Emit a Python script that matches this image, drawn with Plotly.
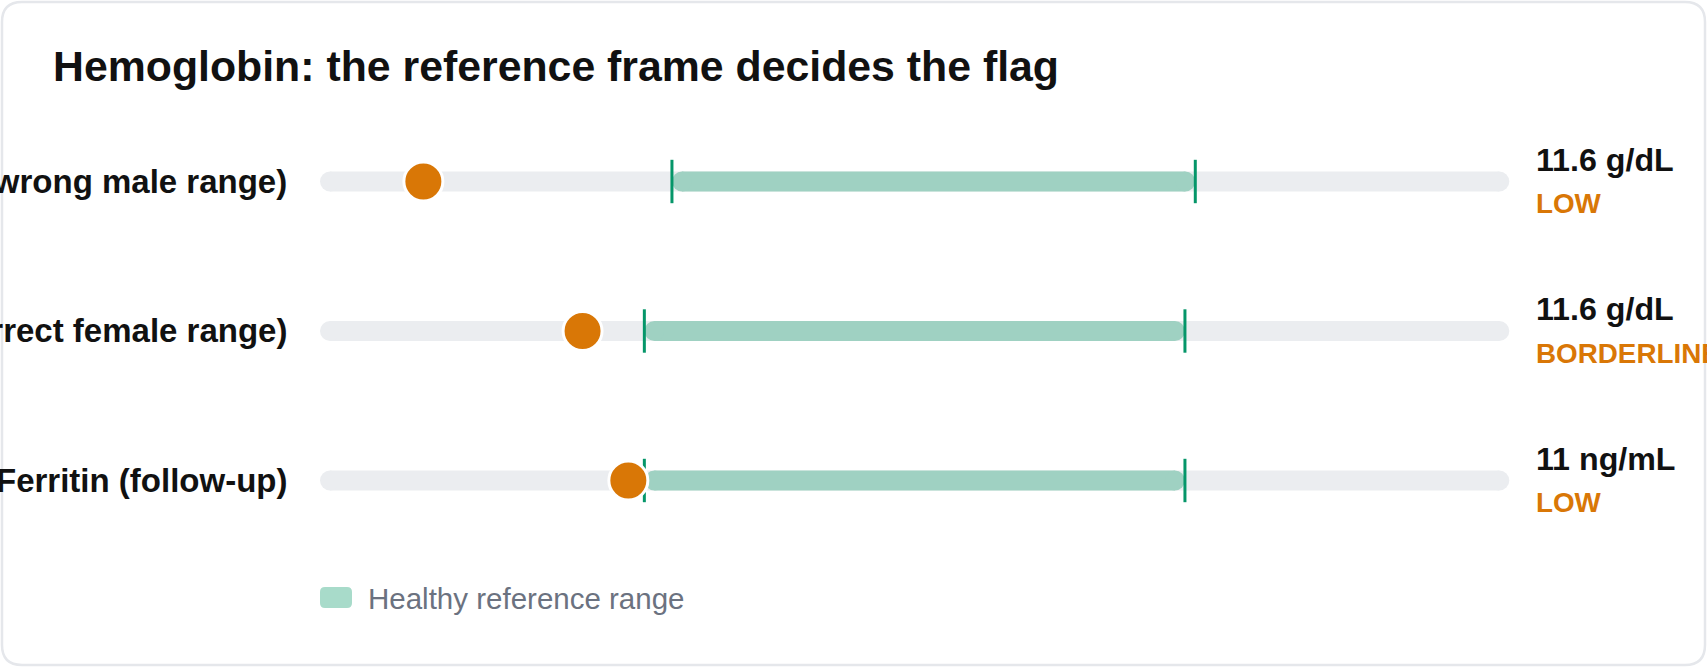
import plotly.graph_objects as go

# ---------------- data ----------------
row_labels = ["Hemoglobin (wrong male range)", "Hemoglobin (correct female range)", "Ferritin (follow-up)"]
values = [11.6, 11.6, 11]
units = ["g/dL", "g/dL", "ng/mL"]
ref_low = [13.5, 12.0, 15]
ref_high = [17.5, 15.5, 150]
flags = ["LOW", "BORDERLINE", "LOW"]
scale_min = [10.81, 9.9, -66]
scale_max = [19.9, 17.6, 231]
title_text = "Hemoglobin: the reference frame decides the flag"
legend_text = "Healthy reference range"

# ---------------- style / layout ----------------
W, H = 1707, 667
FONT = "Liberation Sans, Arial, Helvetica, sans-serif"
TRACK = "#ebedf0"
RANGE_FILL = "#9fd1c2"
RANGE_EDGE = "#059669"
DOT = "#d97706"
TEXT = "#111111"
MUTED = "#6b7280"
TRACK_X0, TRACK_X1 = 320, 1509.3       # pixel extent of the tracks
ROW_CENTER_PX = [181.5, 331, 480.5]
BAR_H = 20


def px(x):
    return x / W


def py(y):
    return 1 - y / H


def rrect_path(x0, y0, x1, y1, r):
    pts = [
        ("M", [(x0 + r, y0)]),
        ("L", [(x1 - r, y0)]),
        ("Q", [(x1, y0), (x1, y0 + r)]),
        ("L", [(x1, y1 - r)]),
        ("Q", [(x1, y1), (x1 - r, y1)]),
        ("L", [(x0 + r, y1)]),
        ("Q", [(x0, y1), (x0, y1 - r)]),
        ("L", [(x0, y0 + r)]),
        ("Q", [(x0, y0), (x0 + r, y0)]),
    ]
    s = ""
    for cmd, ps in pts:
        s += cmd + " " + " ".join(f"{px(a):.6f},{py(b):.6f}" for a, b in ps) + " "
    return s + "Z"


fig = go.Figure()
layout = dict(
    width=W, height=H,
    margin=dict(l=0, r=0, t=0, b=0),
    paper_bgcolor="white", plot_bgcolor="rgba(0,0,0,0)",
    showlegend=False,
    font=dict(family=FONT),
)

plot_w = TRACK_X1 - TRACK_X0
for i in range(3):
    sfx = "" if i == 0 else str(i + 1)
    xa, ya = "x" + sfx, "y" + sfx
    lo_s, hi_s = scale_min[i], scale_max[i]
    d = (BAR_H / 2) * (hi_s - lo_s) / plot_w
    layout["xaxis" + sfx] = dict(domain=[px(TRACK_X0), px(TRACK_X1)], range=[lo_s, hi_s],
                                 visible=False, anchor=ya, fixedrange=True)
    yc = ROW_CENTER_PX[i]
    layout["yaxis" + sfx] = dict(domain=[py(yc + 50), py(yc - 50)], range=[-1, 1],
                                 visible=False, anchor=xa, fixedrange=True)
    # background track
    fig.add_trace(go.Scatter(x=[lo_s + d, hi_s - d], y=[0, 0], xaxis=xa, yaxis=ya,
                             mode="lines+markers", line=dict(color=TRACK, width=BAR_H),
                             marker=dict(color=TRACK, size=BAR_H), hoverinfo="skip", cliponaxis=False))
    # healthy range
    fig.add_trace(go.Scatter(x=[ref_low[i] + d, ref_high[i] - d], y=[0, 0], xaxis=xa, yaxis=ya,
                             mode="lines+markers", line=dict(color=RANGE_FILL, width=BAR_H),
                             marker=dict(color=RANGE_FILL, size=BAR_H), hoverinfo="skip", cliponaxis=False))
    # range boundary ticks
    fig.add_trace(go.Scatter(x=[ref_low[i], ref_high[i]], y=[0, 0], xaxis=xa, yaxis=ya,
                             mode="markers",
                             marker=dict(symbol="line-ns", size=31, color=RANGE_EDGE,
                                         line=dict(color=RANGE_EDGE, width=3)),
                             hoverinfo="skip", cliponaxis=False))
    # value dot
    fig.add_trace(go.Scatter(x=[values[i]], y=[0], xaxis=xa, yaxis=ya, mode="markers",
                             marker=dict(color=DOT, size=39, line=dict(color="white", width=3)),
                             hoverinfo="skip", cliponaxis=False))

annotations = [
    dict(text=title_text, x=px(51), y=py(66), xref="paper", yref="paper",
         xanchor="left", yanchor="middle", showarrow=False,
         font=dict(size=42.8, color=TEXT, family=FONT, weight="bold")),
    dict(text=legend_text, x=px(366), y=py(598), xref="paper", yref="paper",
         xanchor="left", yanchor="middle", showarrow=False,
         font=dict(size=29.5, color=MUTED, family=FONT)),
]
for i in range(3):
    yc = ROW_CENTER_PX[i]
    annotations.append(dict(text=row_labels[i], x=px(289), y=py(yc), xref="paper", yref="paper",
                            xanchor="right", yanchor="middle", showarrow=False,
                            font=dict(size=33, color=TEXT, family=FONT, weight="bold")))
    annotations.append(dict(text=f"{values[i]:g} {units[i]}", x=px(1534), y=py(yc - 21.5),
                            xref="paper", yref="paper", xanchor="left", yanchor="middle",
                            showarrow=False,
                            font=dict(size=32.2, color=TEXT, family=FONT, weight="bold")))
    annotations.append(dict(text=flags[i], x=px(1534), y=py(yc + 22),
                            xref="paper", yref="paper", xanchor="left", yanchor="middle",
                            showarrow=False,
                            font=dict(size=27.8, color=DOT, family=FONT, weight="bold")))

shapes = [
    dict(type="path", xref="paper", yref="paper", path=rrect_path(2, 2, 1705, 665, 20),
         line=dict(color="#e5e7eb", width=2.5), fillcolor="rgba(0,0,0,0)", layer="below"),
    dict(type="path", xref="paper", yref="paper", path=rrect_path(320, 587, 352, 608, 5),
         line=dict(width=0), fillcolor="#a8dbca", layer="above"),
]
layout["annotations"] = annotations
layout["shapes"] = shapes
fig.update_layout(**layout)
fig.write_html("out.html")
